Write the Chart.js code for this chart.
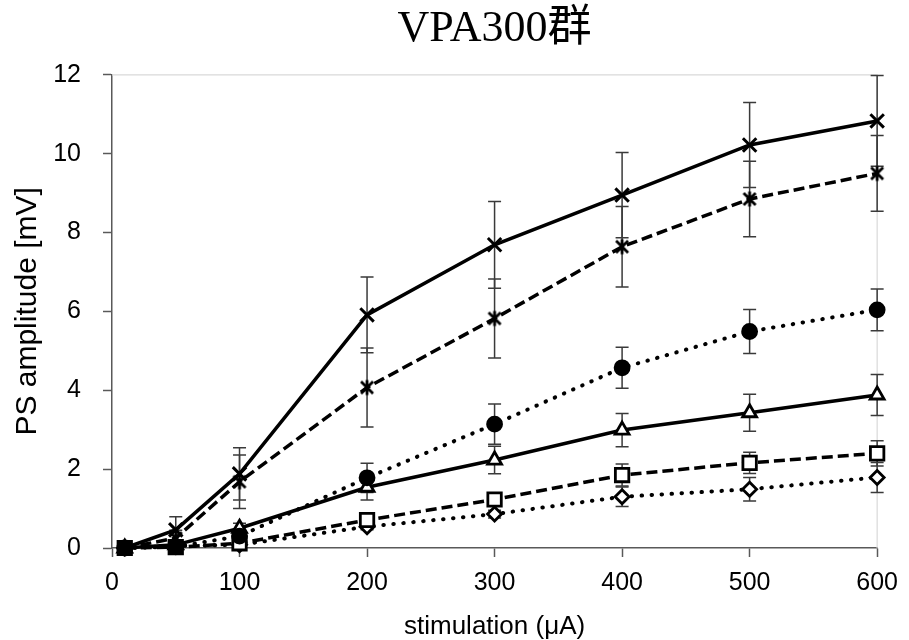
<!DOCTYPE html>
<html>
<head>
<meta charset="utf-8">
<script src="https://cdn.jsdelivr.net/npm/chart.js@4.4.1/dist/chart.umd.min.js"></script>
<style>
  html, body { margin: 0; padding: 0; background: #ffffff; }
  #wrap { width: 909px; height: 640px; }
</style>
</head>
<body>
<div id="wrap"><canvas id="chart" width="909" height="640"></canvas></div>
<script>
// Stimulation intensities (µA)
const stimulation = [10, 50, 100, 200, 300, 400, 500, 600];

// Mean PS amplitude (mV) and its error for each group
const crossMean  = [0, 0.46, 1.88, 5.91, 7.69, 8.95, 10.22, 10.83];
const crossErr   = [0, 0.33, 0.66, 0.96, 1.10, 1.08, 1.08, 1.15];
const starMean   = [0, 0.25, 1.68, 4.07, 5.82, 7.64, 8.85, 9.50];
const starErr    = [0, 0.20, 0.68, 1.00, 1.00, 1.02, 0.96, 0.96];
const circleMean = [0, 0.03, 0.30, 1.78, 3.14, 4.57, 5.49, 6.04];
const circleErr  = [0, 0.03, 0.10, 0.37, 0.51, 0.52, 0.56, 0.53];
const triMean    = [0, 0.08, 0.50, 1.54, 2.23, 2.99, 3.43, 3.88];
const triErr     = [0, 0.05, 0.13, 0.32, 0.35, 0.42, 0.47, 0.52];
const squareMean = [0, 0.02, 0.12, 0.71, 1.23, 1.85, 2.16, 2.40];
const squareErr  = [0, 0.02, 0.05, 0.10, 0.15, 0.28, 0.27, 0.32];
const diamondMean= [0, 0.05, 0.08, 0.54, 0.86, 1.30, 1.49, 1.79];
const diamondErr = [0, 0.03, 0.04, 0.08, 0.10, 0.25, 0.30, 0.38];

// Axis ticks
const xTickValues = [0, 100, 200, 300, 400, 500, 600];
const yTickValues = [0, 2, 4, 6, 8, 10, 12];

const toPoints = (means) => stimulation.map((x, i) => ({ x: x, y: means[i] }));

// Asterisk-style marker: an X with a vertical bar
function makeAsterisk() {
  const c = document.createElement('canvas');
  c.width = 20; c.height = 20;
  const g = c.getContext('2d');
  g.strokeStyle = '#000';
  g.lineWidth = 2.8;
  g.lineCap = 'butt';
  const m = 10, a = 6, v = 7.5;
  g.beginPath();
  g.moveTo(m - a, m - a); g.lineTo(m + a, m + a);
  g.moveTo(m + a, m - a); g.lineTo(m - a, m + a);
  g.moveTo(m, m - v); g.lineTo(m, m + v);
  g.stroke();
  return c;
}

const DOTTED = [0.5, 9.5];
const DASHED = [11, 5];

// Vertical error bars with caps, positioned through the chart scales
const errorBars = {
  id: 'errorBars',
  beforeDatasetsDraw(chart) {
    const { ctx } = chart;
    const xs = chart.scales.x, ys = chart.scales.y;
    ctx.save();
    ctx.strokeStyle = '#3a3a3a';
    ctx.lineWidth = 1.5;
    chart.data.datasets.forEach((ds) => {
      if (!ds.errors) return;
      ds.data.forEach((p, i) => {
        const e = ds.errors[i];
        if (!e) return;
        const px = xs.getPixelForValue(p.x);
        const top = ys.getPixelForValue(p.y + e);
        const bot = ys.getPixelForValue(p.y - e);
        const cap = 6.5;
        ctx.beginPath();
        ctx.moveTo(px, top); ctx.lineTo(px, bot);
        ctx.moveTo(px - cap, top); ctx.lineTo(px + cap, top);
        ctx.moveTo(px - cap, bot); ctx.lineTo(px + cap, bot);
        ctx.stroke();
      });
    });
    ctx.restore();
  }
};

// Light frame on the top and right sides of the plot area
const plotFrame = {
  id: 'plotFrame',
  beforeDatasetsDraw(chart) {
    const { ctx, chartArea: a } = chart;
    ctx.save();
    ctx.strokeStyle = '#d9d9d9';
    ctx.lineWidth = 1.2;
    ctx.beginPath();
    ctx.moveTo(a.left, a.top); ctx.lineTo(a.right, a.top); ctx.lineTo(a.right, a.bottom);
    ctx.stroke();
    ctx.restore();
  }
};

const lineBase = { showLine: true, borderColor: '#000', borderWidth: 3.5, pointBorderColor: '#000',
                   pointBorderWidth: 2.8, clip: false, tension: 0 };

const datasets = [
  Object.assign({}, lineBase, { label: 'circle', data: toPoints(circleMean), errors: circleErr,
    borderDash: DOTTED, borderCapStyle: 'round', borderWidth: 4,
    pointStyle: 'circle', pointRadius: 7, pointBackgroundColor: '#000' }),
  Object.assign({}, lineBase, { label: 'cross', data: toPoints(crossMean), errors: crossErr,
    pointStyle: 'crossRot', pointRadius: 9.5, pointBorderWidth: 3, pointBackgroundColor: '#000' }),
  Object.assign({}, lineBase, { label: 'asterisk', data: toPoints(starMean), errors: starErr,
    borderDash: DASHED, pointStyle: makeAsterisk(), pointRadius: 10 }),
  Object.assign({}, lineBase, { label: 'triangle', data: toPoints(triMean), errors: triErr,
    pointStyle: 'triangle', pointRadius: 8, pointBackgroundColor: '#fff' }),
  Object.assign({}, lineBase, { label: 'square', data: toPoints(squareMean), errors: squareErr,
    borderDash: DASHED, pointStyle: 'rect', pointRadius: 9.5, pointBackgroundColor: '#fff' }),
  Object.assign({}, lineBase, { label: 'diamond', data: toPoints(diamondMean), errors: diamondErr,
    borderDash: DOTTED, borderCapStyle: 'round', borderWidth: 4,
    pointStyle: 'rectRot', pointRadius: 7, pointBackgroundColor: '#fff' })
];

const axisColor = '#595959';
const sansFont = "'Liberation Sans', Arial, sans-serif";

new Chart(document.getElementById('chart'), {
  type: 'scatter',
  data: { datasets: datasets },
  options: {
    responsive: false,
    animation: false,
    layout: { padding: { left: 0, right: 26, top: 0, bottom: 0 } },
    plugins: {
      legend: { display: false },
      tooltip: { enabled: false },
      title: {
        display: true,
        fullSize: false,
        text: 'VPA300群',
        color: '#000',
        font: { family: "'Liberation Serif', 'Noto Sans CJK JP', serif", size: 44, weight: 'normal' },
        padding: { top: 3, bottom: 19 }
      }
    },
    scales: {
      x: {
        type: 'linear',
        min: 0, max: 600,
        afterBuildTicks: (s) => { s.ticks = xTickValues.map(v => ({ value: v })); },
        afterFit: (s) => { s.height = 92; },
        ticks: { color: '#000', padding: 11, font: { family: sansFont, size: 25 } },
        grid: { drawOnChartArea: false, drawTicks: true, tickLength: 9, tickColor: axisColor, tickWidth: 1.5 },
        border: { display: true, color: axisColor, width: 1.5 },
        title: { display: true, text: 'stimulation (μA)', color: '#000',
                 font: { family: sansFont, size: 26, lineHeight: 1 }, padding: { top: 0, bottom: 0 } }
      },
      y: {
        type: 'linear',
        min: 0, max: 12,
        afterBuildTicks: (s) => { s.ticks = yTickValues.map(v => ({ value: v })); },
        afterFit: (s) => { s.width = 112; },
        ticks: { color: '#000', padding: 22, font: { family: sansFont, size: 25 } },
        grid: { drawOnChartArea: false, drawTicks: true, tickLength: 9, tickColor: axisColor, tickWidth: 1.5 },
        border: { display: true, color: axisColor, width: 1.5 },
        title: { display: true, text: 'PS amplitude [mV]', color: '#000',
                 font: { family: sansFont, size: 30, lineHeight: 1 }, padding: { top: 13, bottom: 0 } }
      }
    }
  },
  plugins: [plotFrame, errorBars]
});
</script>
</body>
</html>
